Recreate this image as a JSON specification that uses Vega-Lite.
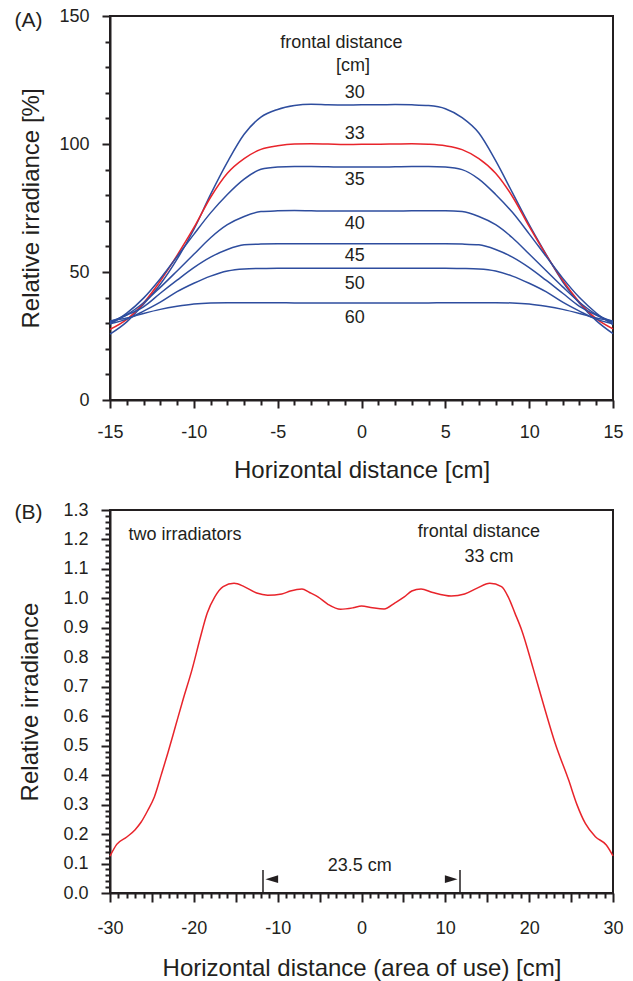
{
"$schema": "https://vega.github.io/schema/vega-lite/v6.json",
"padding": {"left": 13, "top": 6, "right": 5, "bottom": 5},
"spacing": 17,
"config": {
  "font": "Liberation Sans",
  "view": {"stroke": "#231f20", "strokeWidth": 2},
  "axis": {"domainColor": "#231f20", "domainWidth": 2, "tickColor": "#231f20", "tickWidth": 2, "labelColor": "#231f20", "titleColor": "#231f20", "labelFont": "Liberation Sans", "labelFontSize": 18, "titleFont": "Liberation Sans", "titleFontSize": 24, "titleFontWeight": "normal", "grid": false, "labelFlush": false, "labelOverlap": false, "labelBound": false, "tickCount": 100}
},
"datasets": {
  "curvesA": [
    {"d":"30","x":-15,"y":25.7},{"d":"30","x":-14,"y":30.5},{"d":"30","x":-13,"y":37.4},{"d":"30","x":-12,"y":45.2},{"d":"30","x":-11,"y":55.0},{"d":"30","x":-10,"y":66.6},{"d":"30","x":-9,"y":80.3},{"d":"30","x":-8,"y":92.9},{"d":"30","x":-7,"y":103.8},{"d":"30","x":-6,"y":110.5},{"d":"30","x":-5,"y":113.5},{"d":"30","x":-4,"y":115.0},{"d":"30","x":-3,"y":115.5},{"d":"30","x":-2,"y":115.3},{"d":"30","x":-1,"y":115.2},{"d":"30","x":0,"y":115.3},
    {"d":"30","x":1,"y":115.3},{"d":"30","x":2,"y":115.4},{"d":"30","x":3,"y":115.3},{"d":"30","x":4,"y":115.0},{"d":"30","x":5,"y":113.8},{"d":"30","x":6,"y":110.3},{"d":"30","x":7,"y":104.3},{"d":"30","x":8,"y":93.5},{"d":"30","x":9,"y":81.0},{"d":"30","x":10,"y":68.5},{"d":"30","x":11,"y":57.0},{"d":"30","x":12,"y":46.2},{"d":"30","x":13,"y":37.8},{"d":"30","x":14,"y":31.0},{"d":"30","x":15,"y":25.9},
    {"d":"33","x":-15,"y":27.6},{"d":"33","x":-14,"y":31.5},{"d":"33","x":-13,"y":37.9},{"d":"33","x":-12,"y":46.5},{"d":"33","x":-11,"y":56.5},{"d":"33","x":-10,"y":67.3},{"d":"33","x":-9,"y":79.2},{"d":"33","x":-8,"y":88.6},{"d":"33","x":-7,"y":94.3},{"d":"33","x":-6,"y":97.9},{"d":"33","x":-5,"y":99.3},{"d":"33","x":-4,"y":100.0},{"d":"33","x":-3,"y":100.1},{"d":"33","x":-2,"y":100.0},{"d":"33","x":-1,"y":99.8},{"d":"33","x":0,"y":99.9},
    {"d":"33","x":1,"y":99.9},{"d":"33","x":2,"y":100.0},{"d":"33","x":3,"y":100.1},{"d":"33","x":4,"y":99.9},{"d":"33","x":5,"y":99.3},{"d":"33","x":6,"y":97.8},{"d":"33","x":7,"y":94.3},{"d":"33","x":8,"y":88.6},{"d":"33","x":9,"y":79.5},{"d":"33","x":10,"y":67.8},{"d":"33","x":11,"y":56.8},{"d":"33","x":12,"y":46.8},{"d":"33","x":13,"y":38.2},{"d":"33","x":14,"y":31.8},{"d":"33","x":15,"y":27.8},
    {"d":"35","x":-15,"y":29.6},{"d":"35","x":-14,"y":33.9},{"d":"35","x":-13,"y":39.8},{"d":"35","x":-12,"y":47.4},{"d":"35","x":-11,"y":56.0},{"d":"35","x":-10,"y":64.7},{"d":"35","x":-9,"y":73.1},{"d":"35","x":-8,"y":80.3},{"d":"35","x":-7,"y":86.3},{"d":"35","x":-6,"y":90.1},{"d":"35","x":-5,"y":91.0},{"d":"35","x":-4,"y":91.2},{"d":"35","x":-3,"y":91.2},{"d":"35","x":-2,"y":91.1},{"d":"35","x":-1,"y":91.0},{"d":"35","x":0,"y":91.0},
    {"d":"35","x":1,"y":91.0},{"d":"35","x":2,"y":91.1},{"d":"35","x":3,"y":91.2},{"d":"35","x":4,"y":91.2},{"d":"35","x":5,"y":91.0},{"d":"35","x":6,"y":90.0},{"d":"35","x":7,"y":86.3},{"d":"35","x":8,"y":80.3},{"d":"35","x":9,"y":73.3},{"d":"35","x":10,"y":64.9},{"d":"35","x":11,"y":56.2},{"d":"35","x":12,"y":47.6},{"d":"35","x":13,"y":40.0},{"d":"35","x":14,"y":34.0},{"d":"35","x":15,"y":29.4},
    {"d":"40","x":-15,"y":30.2},{"d":"40","x":-14,"y":33.3},{"d":"40","x":-13,"y":38.0},{"d":"40","x":-12,"y":44.0},{"d":"40","x":-11,"y":50.4},{"d":"40","x":-10,"y":56.9},{"d":"40","x":-9,"y":63.4},{"d":"40","x":-8,"y":68.5},{"d":"40","x":-7,"y":71.7},{"d":"40","x":-6,"y":73.6},{"d":"40","x":-5,"y":73.9},{"d":"40","x":-4,"y":74.0},{"d":"40","x":-3,"y":73.9},{"d":"40","x":-2,"y":73.8},{"d":"40","x":-1,"y":73.8},{"d":"40","x":0,"y":73.8},
    {"d":"40","x":1,"y":73.8},{"d":"40","x":2,"y":73.8},{"d":"40","x":3,"y":73.9},{"d":"40","x":4,"y":73.9},{"d":"40","x":5,"y":73.9},{"d":"40","x":6,"y":73.6},{"d":"40","x":7,"y":71.7},{"d":"40","x":8,"y":68.5},{"d":"40","x":9,"y":63.4},{"d":"40","x":10,"y":57.0},{"d":"40","x":11,"y":50.6},{"d":"40","x":12,"y":44.2},{"d":"40","x":13,"y":38.2},{"d":"40","x":14,"y":33.4},{"d":"40","x":15,"y":30.2},
    {"d":"45","x":-15,"y":30.6},{"d":"45","x":-14,"y":33.2},{"d":"45","x":-13,"y":36.4},{"d":"45","x":-12,"y":41.7},{"d":"45","x":-11,"y":46.8},{"d":"45","x":-10,"y":51.7},{"d":"45","x":-9,"y":55.8},{"d":"45","x":-8,"y":58.8},{"d":"45","x":-7,"y":60.6},{"d":"45","x":-6,"y":60.9},{"d":"45","x":-5,"y":61.0},{"d":"45","x":-4,"y":61.0},{"d":"45","x":-3,"y":61.0},{"d":"45","x":-2,"y":61.0},{"d":"45","x":-1,"y":61.0},{"d":"45","x":0,"y":61.0},
    {"d":"45","x":1,"y":61.0},{"d":"45","x":2,"y":61.0},{"d":"45","x":3,"y":61.0},{"d":"45","x":4,"y":61.0},{"d":"45","x":5,"y":61.0},{"d":"45","x":6,"y":60.9},{"d":"45","x":7,"y":60.6},{"d":"45","x":8,"y":58.8},{"d":"45","x":9,"y":55.8},{"d":"45","x":10,"y":51.7},{"d":"45","x":11,"y":46.8},{"d":"45","x":12,"y":41.7},{"d":"45","x":13,"y":36.6},{"d":"45","x":14,"y":33.2},{"d":"45","x":15,"y":30.6},
    {"d":"50","x":-15,"y":29.8},{"d":"50","x":-14,"y":31.6},{"d":"50","x":-13,"y":34.7},{"d":"50","x":-12,"y":38.2},{"d":"50","x":-11,"y":42.3},{"d":"50","x":-10,"y":45.6},{"d":"50","x":-9,"y":48.4},{"d":"50","x":-8,"y":50.4},{"d":"50","x":-7,"y":51.2},{"d":"50","x":-6,"y":51.4},{"d":"50","x":-5,"y":51.5},{"d":"50","x":-4,"y":51.5},{"d":"50","x":-3,"y":51.5},{"d":"50","x":-2,"y":51.5},{"d":"50","x":-1,"y":51.5},{"d":"50","x":0,"y":51.5},
    {"d":"50","x":1,"y":51.5},{"d":"50","x":2,"y":51.5},{"d":"50","x":3,"y":51.5},{"d":"50","x":4,"y":51.5},{"d":"50","x":5,"y":51.5},{"d":"50","x":6,"y":51.4},{"d":"50","x":7,"y":51.2},{"d":"50","x":8,"y":50.4},{"d":"50","x":9,"y":48.4},{"d":"50","x":10,"y":45.6},{"d":"50","x":11,"y":42.3},{"d":"50","x":12,"y":38.2},{"d":"50","x":13,"y":34.7},{"d":"50","x":14,"y":31.6},{"d":"50","x":15,"y":29.8},
    {"d":"60","x":-15,"y":30.9},{"d":"60","x":-14,"y":32.0},{"d":"60","x":-13,"y":33.8},{"d":"60","x":-12,"y":35.4},{"d":"60","x":-11,"y":36.6},{"d":"60","x":-10,"y":37.5},{"d":"60","x":-9,"y":37.9},{"d":"60","x":-8,"y":38.0},{"d":"60","x":-7,"y":38.0},{"d":"60","x":-6,"y":38.0},{"d":"60","x":-5,"y":38.0},{"d":"60","x":-4,"y":37.9},{"d":"60","x":-3,"y":37.9},{"d":"60","x":-2,"y":37.9},{"d":"60","x":-1,"y":37.9},{"d":"60","x":0,"y":37.9},
    {"d":"60","x":1,"y":37.9},{"d":"60","x":2,"y":37.9},{"d":"60","x":3,"y":37.9},{"d":"60","x":4,"y":37.9},{"d":"60","x":5,"y":38.0},{"d":"60","x":6,"y":38.0},{"d":"60","x":7,"y":38.0},{"d":"60","x":8,"y":38.0},{"d":"60","x":9,"y":37.9},{"d":"60","x":10,"y":37.5},{"d":"60","x":11,"y":36.6},{"d":"60","x":12,"y":35.4},{"d":"60","x":13,"y":33.8},{"d":"60","x":14,"y":32.0},{"d":"60","x":15,"y":30.9}
  ],
  "labelsA": [
    {"x":-1.2,"y":139.6,"t":"frontal distance"},{"x":-0.5,"y":130.5,"t":"[cm]"},
    {"x":-0.4,"y":120.0,"t":"30"},{"x":-0.4,"y":103.8,"t":"33"},{"x":-0.4,"y":85.9,"t":"35"},{"x":-0.4,"y":68.6,"t":"40"},{"x":-0.4,"y":56.2,"t":"45"},{"x":-0.4,"y":45.4,"t":"50"},{"x":-0.4,"y":32.1,"t":"60"}
  ],
  "curveB": [
    {"x":-30,"y":0.125},{"x":-29.2,"y":0.165},{"x":-28,"y":0.19},{"x":-27,"y":0.215},{"x":-26.3,"y":0.24},{"x":-25.5,"y":0.28},{"x":-24.7,"y":0.327},{"x":-23.9,"y":0.40},{"x":-23.1,"y":0.475},{"x":-22.2,"y":0.565},{"x":-21.3,"y":0.655},{"x":-20.2,"y":0.76},{"x":-19.2,"y":0.87},{"x":-18.4,"y":0.95},{"x":-17.5,"y":1.005},{"x":-16.5,"y":1.04},{"x":-15.2,"y":1.051},{"x":-14,"y":1.04},{"x":-12.5,"y":1.018},{"x":-11.2,"y":1.011},{"x":-9.5,"y":1.015},{"x":-8.5,"y":1.025},{"x":-7.1,"y":1.032},{"x":-6.2,"y":1.02},{"x":-5.2,"y":1.005},{"x":-4,"y":0.98},{"x":-2.5,"y":0.963},{"x":-1,"y":0.968},{"x":0,"y":0.974},{"x":1.3,"y":0.968},{"x":2.7,"y":0.964},{"x":4,"y":0.985},{"x":5.1,"y":1.005},{"x":6,"y":1.025},{"x":7.1,"y":1.032},{"x":8.5,"y":1.02},{"x":10.7,"y":1.008},{"x":12.3,"y":1.015},{"x":13.8,"y":1.035},{"x":15.3,"y":1.051},{"x":16.7,"y":1.04},{"x":17.5,"y":1.005},{"x":18.3,"y":0.95},{"x":19.1,"y":0.893},{"x":20.5,"y":0.76},{"x":21.9,"y":0.621},{"x":23.1,"y":0.508},{"x":24.7,"y":0.384},{"x":25.7,"y":0.30},{"x":26.7,"y":0.236},{"x":27.9,"y":0.191},{"x":29.2,"y":0.163},{"x":30,"y":0.126}
  ],
  "labelsB": [
    {"x":-21.05,"y":1.215,"t":"two irradiators"},
    {"x":14.0,"y":1.225,"t":"frontal distance"},
    {"x":15.2,"y":1.142,"t":"33 cm"},
    {"x":-0.2,"y":0.09,"t":"23.5 cm"}
  ]
},
"vconcat": [
  {
    "width": 503, "height": 384,
    "layer": [
      {
        "data": {"name": "curvesA"},
        "mark": {"type": "line", "interpolate": "monotone", "strokeWidth": 1.5},
        "encoding": {
          "x": {"field": "x", "type": "quantitative", "scale": {"domain": [-15, 15], "nice": false, "zero": false},
            "axis": {"title": "Horizontal distance [cm]", "values": [-15,-14,-13,-12,-11,-10,-9,-8,-7,-6,-5,-4,-3,-2,-1,0,1,2,3,4,5,6,7,8,9,10,11,12,13,14,15],
              "labelExpr": "datum.value % 5 === 0 ? '' + datum.value : ''",
              "tickSize": {"condition": {"test": "datum.value % 5 === 0", "value": 8}, "value": 5},
              "labelPadding": 15, "titlePadding": 17}},
          "y": {"field": "y", "type": "quantitative", "scale": {"domain": [0, 150], "nice": false, "zero": false},
            "axis": {"title": "Relative irradiance [%]", "values": [0,10,20,30,40,50,60,70,80,90,100,110,120,130,140,150],
              "labelExpr": "datum.value % 50 === 0 ? '' + datum.value : ''",
              "tickSize": {"condition": {"test": "datum.value % 50 === 0", "value": 8}, "value": 5},
              "labelPadding": 13, "titlePadding": 15}},
          "color": {"field": "d", "type": "nominal", "legend": null,
            "scale": {"domain": ["30","33","35","40","45","50","60"], "range": ["#2e4d9e","#e8242b","#2e4d9e","#2e4d9e","#2e4d9e","#2e4d9e","#2e4d9e"]}}
        }
      },
      {
        "data": {"name": "labelsA"},
        "mark": {"type": "text", "fontSize": 18, "color": "#231f20", "align": "center", "baseline": "middle"},
        "encoding": {
          "x": {"field": "x", "type": "quantitative"},
          "y": {"field": "y", "type": "quantitative"},
          "text": {"field": "t"}
        }
      },
      {
        "data": {"values": [{"x": -19.86, "y": 148.2, "t": "(A)"}]},
        "mark": {"type": "text", "fontSize": 21, "color": "#231f20", "align": "center", "baseline": "middle"},
        "encoding": {
          "x": {"field": "x", "type": "quantitative"},
          "y": {"field": "y", "type": "quantitative"},
          "text": {"field": "t"}
        }
      }
    ]
  },
  {
    "width": 503, "height": 383,
    "layer": [
      {
        "mark": {"type": "rule", "color": "#231f20", "strokeWidth": 1.5, "strokeDash": [2, 3]},
        "encoding": {"y": {"datum": 1}}
      },
      {
        "mark": {"type": "rule", "color": "#231f20", "strokeWidth": 1.5, "strokeDash": [2, 3]},
        "encoding": {"x": {"datum": 0}, "y": {"datum": 0.157}, "y2": {"datum": 1.3}}
      },
      {
        "data": {"name": "curveB"},
        "mark": {"type": "line", "interpolate": "monotone", "strokeWidth": 1.5, "color": "#e8242b"},
        "encoding": {
          "x": {"field": "x", "type": "quantitative", "scale": {"domain": [-30, 30], "nice": false, "zero": false},
            "axis": {"title": "Horizontal distance (area of use) [cm]", "values": [-30,-29,-28,-27,-26,-25,-24,-23,-22,-21,-20,-19,-18,-17,-16,-15,-14,-13,-12,-11,-10,-9,-8,-7,-6,-5,-4,-3,-2,-1,0,1,2,3,4,5,6,7,8,9,10,11,12,13,14,15,16,17,18,19,20,21,22,23,24,25,26,27,28,29,30],
              "labelExpr": "datum.value % 10 === 0 ? '' + datum.value : ''",
              "tickSize": {"condition": {"test": "datum.value % 5 === 0", "value": 9}, "value": 5},
              "labelPadding": 17, "titlePadding": 19}},
          "y": {"field": "y", "type": "quantitative", "scale": {"domain": [0, 1.3], "nice": false, "zero": false},
            "axis": {"title": "Relative irradiance", "values": [0,0.02,0.04,0.06,0.08,0.1,0.12,0.14,0.16,0.18,0.2,0.22,0.24,0.26,0.28,0.3,0.32,0.34,0.36,0.38,0.4,0.42,0.44,0.46,0.48,0.5,0.52,0.54,0.56,0.58,0.6,0.62,0.64,0.66,0.68,0.7,0.72,0.74,0.76,0.78,0.8,0.82,0.84,0.86,0.88,0.9,0.92,0.94,0.96,0.98,1.0,1.02,1.04,1.06,1.08,1.1,1.12,1.14,1.16,1.18,1.2,1.22,1.24,1.26,1.28,1.3],
              "labelExpr": "round(datum.value * 100) % 10 === 0 ? format(datum.value, '.1f') : ''",
              "tickSize": {"condition": {"test": "round(datum.value * 100) % 10 === 0", "value": 9}, "value": 5},
              "labelPadding": 13, "titlePadding": 20}}
        }
      },
      {
        "mark": {"type": "rule", "color": "#231f20", "strokeWidth": 1.5},
        "encoding": {"x": {"datum": -11.75}, "x2": {"datum": 11.75}, "y": {"datum": 0.047}}
      },
      {
        "data": {"values": [{"x": -11.75}, {"x": 11.75}]},
        "mark": {"type": "rule", "color": "#231f20", "strokeWidth": 1.5},
        "encoding": {"x": {"field": "x", "type": "quantitative"}, "y": {"datum": 0}, "y2": {"datum": 0.078}}
      },
      {
        "data": {"values": [{"x": -10.7, "s": "M-1,0L1,-0.6L1,0.6Z"}, {"x": 10.7, "s": "M1,0L-1,-0.6L-1,0.6Z"}]},
        "mark": {"type": "point", "filled": true, "color": "#231f20", "opacity": 1, "size": 160},
        "encoding": {"x": {"field": "x", "type": "quantitative"}, "y": {"datum": 0.047},
          "shape": {"field": "s", "type": "nominal", "scale": null}}
      },
      {
        "data": {"name": "labelsB"},
        "mark": {"type": "text", "fontSize": 18, "color": "#231f20", "align": "center", "baseline": "middle"},
        "encoding": {
          "x": {"field": "x", "type": "quantitative"},
          "y": {"field": "y", "type": "quantitative"},
          "text": {"field": "t"}
        }
      },
      {
        "data": {"values": [{"x": -39.73, "y": 1.29, "t": "(B)"}]},
        "mark": {"type": "text", "fontSize": 21, "color": "#231f20", "align": "center", "baseline": "middle"},
        "encoding": {
          "x": {"field": "x", "type": "quantitative"},
          "y": {"field": "y", "type": "quantitative"},
          "text": {"field": "t"}
        }
      }
    ]
  }
]
}
